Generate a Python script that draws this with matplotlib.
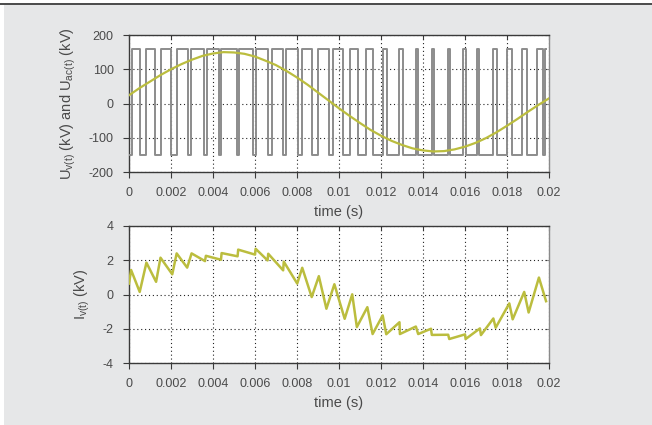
import numpy as np
import matplotlib.pyplot as plt
from matplotlib.patches import Rectangle
from matplotlib.lines import Line2D

# converter voltage U_v(t): PWM switching instants (s), wave starts at the low level
pwm_switch_t = [0.00013, 0.00052, 0.00081, 0.00124, 0.00151, 0.00200, 0.00227, 0.00282,
                0.00297, 0.00359, 0.00373, 0.00430, 0.00438, 0.00513, 0.00525, 0.00592,
                0.00605, 0.00663, 0.00680, 0.00735, 0.00746, 0.00803, 0.00822, 0.00873,
                0.00901, 0.00954, 0.00973, 0.01020, 0.01052, 0.01092, 0.01129, 0.01160,
                0.01208, 0.01227, 0.01287, 0.01303, 0.01367, 0.01378, 0.01441, 0.01452,
                0.01520, 0.01529, 0.01592, 0.01605, 0.01656, 0.01668, 0.01735, 0.01751,
                0.01799, 0.01822, 0.01870, 0.01894, 0.01944, 0.01973, 0.01983]
pwm_end = 0.01985
pwm_high = 158.0
pwm_low = -150.0

# ac voltage U_ac(t), kV, every 0.5 ms
uac_t = np.linspace(0, 0.02, 41)
uac_kv = [24, 45, 64, 83, 100, 115, 128, 139, 146, 150,
          149, 145, 137, 125, 112, 95, 76, 55, 32, 9,
          -14, -36, -57, -77, -94, -109, -121, -131, -137, -140,
          -139, -134, -126, -115, -101, -84, -65, -45, -24, -4, 15]

# valve current I_v(t), kA (labelled kV in the original)
iv_t = [0.0, 0.0001, 0.00051, 0.00083, 0.00129, 0.0015, 0.00206, 0.00227, 0.00277, 0.00298,
        0.00362, 0.00366, 0.00438, 0.00441, 0.00517, 0.0052, 0.006, 0.00603, 0.0066, 0.00663,
        0.00734, 0.00737, 0.00801, 0.00825, 0.0087, 0.00904, 0.0094, 0.00978, 0.01027, 0.01063,
        0.01085, 0.01135, 0.0116, 0.01208, 0.01225, 0.01288, 0.0129, 0.01366, 0.01377, 0.01438,
        0.01442, 0.0152, 0.01525, 0.016, 0.01603, 0.01671, 0.01676, 0.01735, 0.01746, 0.01811,
        0.01827, 0.01882, 0.01903, 0.01952, 0.01986]
iv = [0.64, 1.43, 0.15, 1.86, 0.74, 2.15, 1.18, 2.4, 1.57, 2.4,
      1.95, 2.26, 2.03, 2.42, 2.23, 2.62, 2.33, 2.67, 1.99, 2.38,
      1.41, 1.92, 0.64, 1.56, -0.15, 1.07, -0.83, 0.6, -1.42, 0.01,
      -1.9, -0.74, -2.31, -1.22, -2.32, -1.62, -2.31, -1.87, -2.31, -2.0,
      -2.36, -2.35, -2.6, -2.33, -2.6, -1.98, -2.37, -1.4, -1.94, -0.52,
      -1.45, 0.15, -1.05, 0.99, -0.39]

xticks = [0, 0.002, 0.004, 0.006, 0.008, 0.01, 0.012, 0.014, 0.016, 0.018, 0.02]
xticklabels = ['0', '0.002', '0.004', '0.006', '0.008', '0.01', '0.012', '0.014', '0.016', '0.018', '0.02']

plt.rcParams['font.family'] = ['Liberation Sans', 'DejaVu Sans']
plt.rcParams['mathtext.fontset'] = 'custom'
plt.rcParams['mathtext.rm'] = 'Liberation Sans'
plt.rcParams['mathtext.default'] = 'rm'
plt.rcParams['axes.unicode_minus'] = False

txt = '#4a4a4a'
olive = '#bbbd3e'

fig = plt.figure(figsize=(6.52, 4.25), dpi=100)
fig.patch.set_facecolor('white')
fig.patches.append(Rectangle((3.5/652, 0), 1, 1 - 5/425, transform=fig.transFigure,
                             facecolor='#e6e7e8', edgecolor='none', zorder=-10))
fig.lines.append(Line2D([0, 1], [1 - 3.5/425, 1 - 3.5/425], transform=fig.transFigure,
                        color='#3c3c3c', lw=1.3))

ax1 = fig.add_axes([129/652, 1 - 172/425, 420/652, 137/425])
ax2 = fig.add_axes([129/652, 1 - 363/425, 420/652, 137/425])

# square wave
sw_x = np.concatenate([[0.0], pwm_switch_t, [pwm_end]])
states = [pwm_low if k % 2 == 0 else pwm_high for k in range(len(pwm_switch_t) + 1)]
states.append(states[-1])
ax1.step(sw_x, states, where='post', color='#8c8c8c', lw=1.4, zorder=3)
ax1.plot(uac_t, uac_kv, color=olive, lw=1.6, zorder=4)

ax2.plot(iv_t, iv, color=olive, lw=1.8, zorder=4)

for ax in (ax1, ax2):
    ax.set_facecolor('white')
    ax.set_xlim(0, 0.02)
    ax.set_xticks(xticks)
    ax.set_xticklabels(xticklabels)
    ax.grid(True, linestyle=(0, (1, 2.5)), color='#222222', lw=0.8)
    ax.set_axisbelow(True)
    for s in ax.spines.values():
        s.set_color('#3a3a3a')
        s.set_linewidth(1.0)
    ax.spines['right'].set_color('#8a8a8a')
    ax.tick_params(direction='out', length=4, width=0.8, color='#3a3a3a',
                   labelcolor=txt, labelsize=9, pad=7)
    ax.set_xlabel('time (s)', fontsize=10.5, color=txt, labelpad=4)
    sec = ax.secondary_xaxis('top')
    sec.set_xticks(xticks)
    sec.tick_params(direction='in', length=3, width=0.8, color='#3a3a3a', labeltop=False)
    sec.spines['top'].set_visible(False)
    secy = ax.secondary_yaxis('right')
    secy.tick_params(direction='in', length=3, width=0.8, color='#8a8a8a', labelright=False)
    secy.spines['right'].set_visible(False)

ax1.set_ylim(-200, 200)
ax1.set_yticks([-200, -100, 0, 100, 200])
secy1 = ax1.child_axes
ax1.set_ylabel('U$_{v(t)}$ (kV) and U$_{ac(t)}$ (kV)', fontsize=10.5, color=txt, labelpad=8)

ax2.set_ylim(-4, 4)
ax2.set_yticks([-4, -2, 0, 2, 4])
ax2.set_ylabel('I$_{v(t)}$ (kV)', fontsize=10.5, color=txt, labelpad=8)

fig.savefig('out.png', dpi=100)
